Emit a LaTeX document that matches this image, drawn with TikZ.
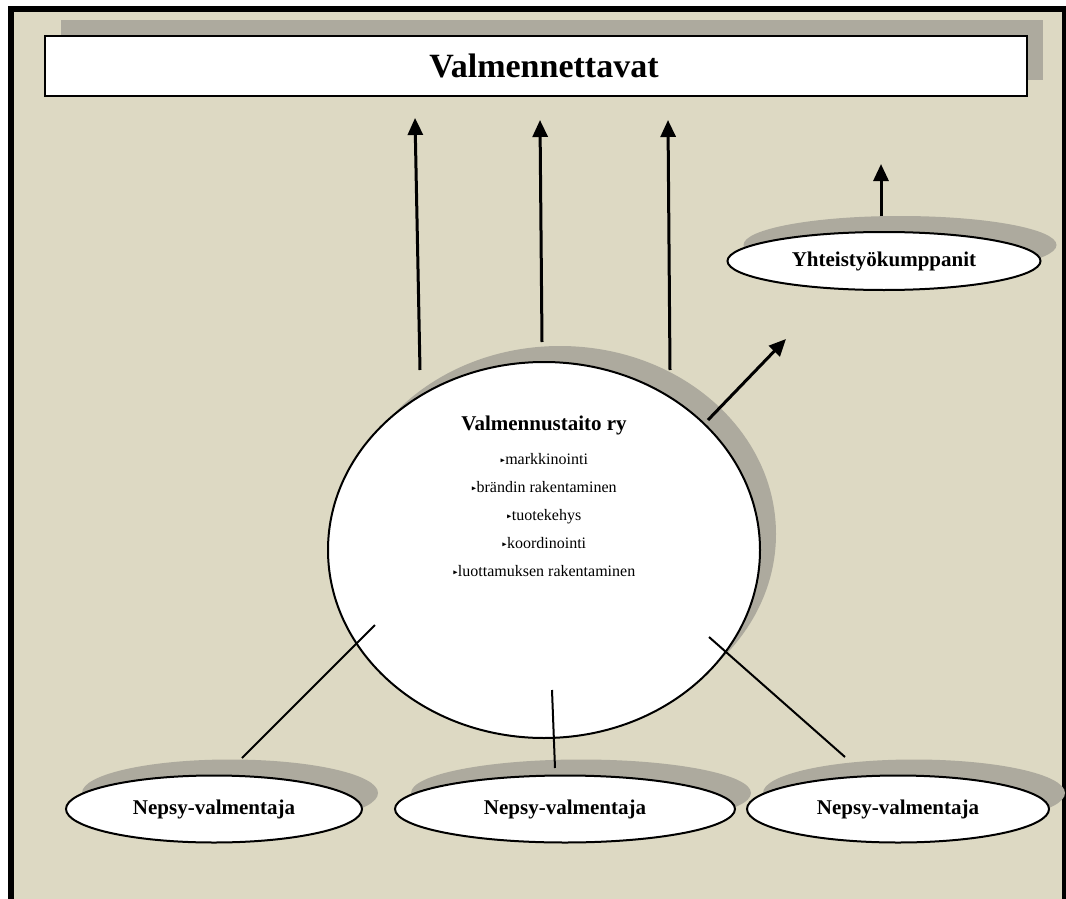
\documentclass[tikz,border=0pt]{standalone}
\usepackage{amssymb}
\usepackage{fontspec}
\setmainfont{Liberation Serif}
\usetikzlibrary{shapes.geometric,shadows,arrows.meta}
\definecolor{bgc}{RGB}{221,217,195}
\definecolor{shadowc}{RGB}{173,170,158}
\newcommand{\blt}{\raisebox{2.5pt}{\scalebox{0.42}{$\blacktriangleright$}}}
\tikzset{
  shad/.style={drop shadow={shadow xshift=16pt, shadow yshift=16pt, fill=shadowc, opacity=1}},
  topbox/.style={rectangle, draw=black, line width=2.5pt, fill=white, shad, minimum width=982pt, minimum height=60pt, font=\bfseries\fontsize{34}{40}\selectfont},
  bigell/.style={ellipse, draw=black, line width=2pt, fill=white, shad, minimum width=432pt, minimum height=376pt, inner sep=0pt},
  smallell/.style={ellipse, draw=black, line width=2pt, fill=white, shad, minimum width=296pt, minimum height=67pt, inner sep=0pt, font=\bfseries\fontsize{21}{24}\selectfont},
  uparrow/.style={line width=3pt, -{Triangle[width=15pt,length=17pt]}},
  link/.style={line width=2pt}
}
\begin{document}
\begin{tikzpicture}[x=1pt,y=-1pt]
\useasboundingbox (0,0) rectangle (1066,899);
% background and frame
\fill[white] (0,0) rectangle (1066,899);
\fill[bgc] (8,6) rectangle (1066,899);
\fill[black] (8,6) rectangle (14,899);
\fill[black] (8,6) rectangle (1066,12);
\fill[black] (1062,6) rectangle (1066,899);
% nodes
\node[topbox] (top) at (536,66) {\hspace*{16pt}Valmennettavat};
\node[bigell] (main) at (544,550) {};
\node[font=\fontsize{16}{28}\selectfont, align=center, anchor=north, inner sep=0pt] (maintext) at (544,416)
  {{\bfseries\fontsize{21}{24}\selectfont Valmennustaito ry}\\[6pt]
   \blt markkinointi\\
   \blt brändin rakentaminen\\
   \blt tuotekehys\\
   \blt koordinointi\\
   \blt luottamuksen rakentaminen};
\node[smallell, minimum width=313pt, minimum height=58pt] (yht) at (884,261) {Yhteistyökumppanit};
\node[smallell] (n1) at (214,809) {Nepsy-valmentaja};
\node[smallell, minimum width=340pt] (n2) at (565,809) {Nepsy-valmentaja};
\node[smallell, minimum width=302pt] (n3) at (898,809) {Nepsy-valmentaja};
% connector end points
\coordinate (a1s) at (420,370); \coordinate (a1e) at (415,118);
\coordinate (a2s) at (542,342); \coordinate (a2e) at (540,120);
\coordinate (a3s) at (670,370); \coordinate (a3e) at (668,120);
\coordinate (a4s) at (708,420); \coordinate (a4e) at (786,339);
\coordinate (a5s) at (881,216); \coordinate (a5e) at (881,164);
\coordinate (l1s) at (375,625); \coordinate (l1e) at (242,758);
\coordinate (l2s) at (552,690); \coordinate (l2e) at (555,768);
\coordinate (l3s) at (709,637); \coordinate (l3e) at (845,757);
% connectors
\draw[uparrow] (a1s) -- (a1e);
\draw[uparrow] (a2s) -- (a2e);
\draw[uparrow] (a3s) -- (a3e);
\draw[uparrow] (a4s) -- (a4e);
\draw[uparrow] (a5s) -- (a5e);
\draw[link] (l1s) -- (l1e);
\draw[link] (l2s) -- (l2e);
\draw[link] (l3s) -- (l3e);
\end{tikzpicture}
\end{document}
